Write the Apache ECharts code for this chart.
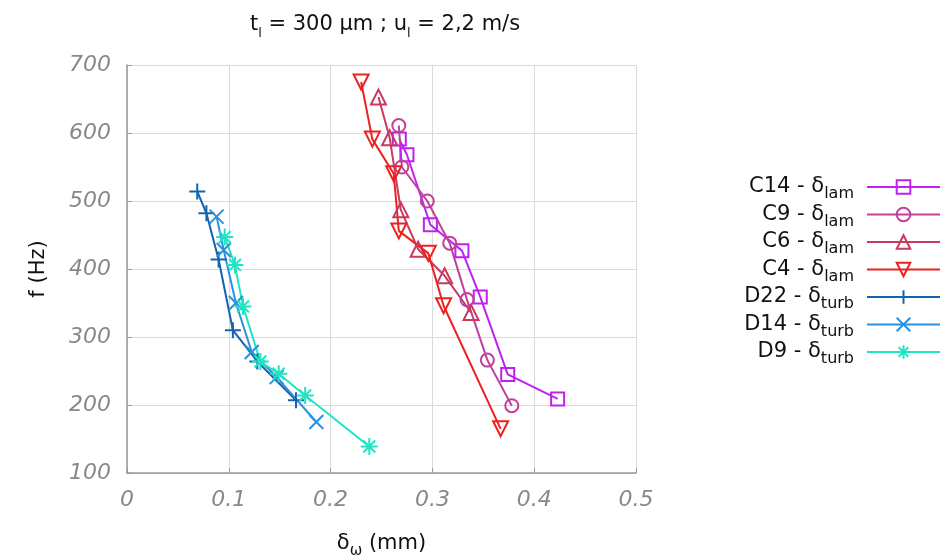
<!DOCTYPE html>
<html><head><meta charset="utf-8">
<script src="https://cdn.jsdelivr.net/npm/echarts@6/dist/echarts.min.js"></script>
<style>html,body{margin:0;padding:0;background:#fff}#c{width:941px;height:557px}</style>
</head><body><div id="c"></div>
<script>
// ---- data (x = delta in mm, y = f in Hz) ----
const C14_x = [0.2675, 0.275, 0.298, 0.329, 0.347, 0.374, 0.423];
const C14_y = [591, 568, 465, 427, 359, 245, 209];
const C9_x = [0.267, 0.270, 0.295, 0.317, 0.334, 0.354, 0.378];
const C9_y = [611, 550, 500, 438, 355, 266, 199];
const C6_x = [0.247, 0.258, 0.269, 0.286, 0.312, 0.338];
const C6_y = [653, 593, 487, 429, 390, 336];
const C4_x = [0.230, 0.241, 0.262, 0.267, 0.296, 0.311, 0.367];
const C4_y = [675, 591, 540, 456, 423, 346, 165];
const D22_x = [0.069, 0.078, 0.090, 0.104, 0.128, 0.166];
const D22_y = [514, 482, 414, 310, 264, 207];
const D14_x = [0.088, 0.095, 0.107, 0.1225, 0.147, 0.186];
const D14_y = [477, 428, 350, 278, 241, 175];
const D9_x = [0.096, 0.106, 0.114, 0.131, 0.149, 0.175, 0.238];
const D9_y = [447, 406, 345, 264, 246, 214, 139];

const seriesNames = ['C14 - δlam', 'C9 - δlam', 'C6 - δlam', 'C4 - δlam', 'D22 - δturb', 'D14 - δturb', 'D9 - δturb'];
const xTicks = [0, 0.1, 0.2, 0.3, 0.4, 0.5];
const yTicks = [100, 200, 300, 400, 500, 600, 700];

const xs = [C14_x, C9_x, C6_x, C4_x, D22_x, D14_x, D9_x];
const ys = [C14_y, C9_y, C6_y, C4_y, D22_y, D14_y, D9_y];
const colors = ['#c020f0', '#c0409c', '#c83a5e', '#ee2020', '#1462b0', '#2a90e2', '#20e4c4'];
const symbols = [
  'rect', 'circle', 'triangle', 'triangle',
  'path://M5,0L5,10M0,5L10,5',
  'path://M0,0L10,10M0,10L10,0',
  'path://M5,0L5,10M0,5L10,5M1.5,1.5L8.5,8.5M1.5,8.5L8.5,1.5'
];
const sizes = [13, 13, 15, 15, 16, 14, 17];
const rotates = [0, 0, 0, 180, 0, 0, 0];

const FONT = 'DejaVu Sans';
const series = seriesNames.map((n, i) => ({
  name: n,
  type: 'line',
  data: xs[i].map((x, j) => [x, ys[i][j]]),
  symbol: symbols[i],
  symbolSize: sizes[i],
  symbolRotate: rotates[i],
  showAllSymbol: true,
  lineStyle: { color: colors[i], width: 2 },
  itemStyle: { color: 'rgba(255,255,255,0)', borderColor: colors[i], borderWidth: 2 },
  emphasis: { disabled: true },
  animation: false
}));

const chart = echarts.init(document.getElementById('c'));
chart.setOption({
  backgroundColor: '#fff',
  animation: false,
  title: {
    text: 't{s|l} = 300 µm ; u{s|l} = 2,2 m/s',
    left: 380, top: 5, textAlign: 'center',
    textStyle: {
      fontFamily: FONT, fontSize: 21, fontWeight: 'normal', color: '#111',
      rich: { s: { fontFamily: FONT, fontSize: 13, verticalAlign: 'bottom', lineHeight: 30, color: '#111' } }
    }
  },
  grid: { left: 127, right: 305, top: 65, bottom: 84, outerBoundsMode: 'none', containLabel: false },
  legend: {
    orient: 'vertical', right: 0, top: 172, align: 'right', padding: 0,
    itemWidth: 73, itemHeight: 17, itemGap: -2.5,
    data: seriesNames,
    formatter: n => n.replace(/δ(\w+)$/, 'δ{s|$1}'),
    textStyle: {
      fontFamily: FONT, fontSize: 21, color: '#111', lineHeight: 24, padding: [0, 8, 0, 0],
      rich: { s: { fontFamily: FONT, fontSize: 16, verticalAlign: 'bottom', lineHeight: 30, color: '#111' } }
    }
  },
  xAxis: {
    type: 'value', min: xTicks[0], max: xTicks[xTicks.length - 1], interval: 0.1,
    name: 'δ{s|ω} (mm)', nameLocation: 'middle', nameGap: 56,
    nameTextStyle: {
      fontFamily: FONT, fontSize: 21, color: '#111',
      rich: { s: { fontFamily: FONT, fontSize: 15, verticalAlign: 'bottom', lineHeight: 30, color: '#111' } }
    },
    axisLine: { show: true, onZero: false, lineStyle: { color: '#999', width: 1.5 } },
    axisTick: { show: true, inside: true, length: 5, lineStyle: { color: '#999' } },
    axisLabel: { fontFamily: FONT, fontSize: 22, fontStyle: 'italic', color: '#888', margin: 16 },
    splitLine: { show: true, lineStyle: { color: '#dadada', width: 1 } }
  },
  yAxis: {
    type: 'value', min: yTicks[0], max: yTicks[yTicks.length - 1], interval: 100,
    name: 'f (Hz)', nameLocation: 'middle', nameGap: 78, nameRotate: 90,
    nameTextStyle: { fontFamily: FONT, fontSize: 21, color: '#111' },
    axisLine: { show: true, onZero: false, lineStyle: { color: '#999', width: 1.5 } },
    axisTick: { show: true, inside: true, length: 5, lineStyle: { color: '#999' } },
    axisLabel: { fontFamily: FONT, fontSize: 22, fontStyle: 'italic', color: '#888', margin: 16 },
    splitLine: { show: true, lineStyle: { color: '#dadada', width: 1 } }
  },
  series: series
});
</script></body></html>
